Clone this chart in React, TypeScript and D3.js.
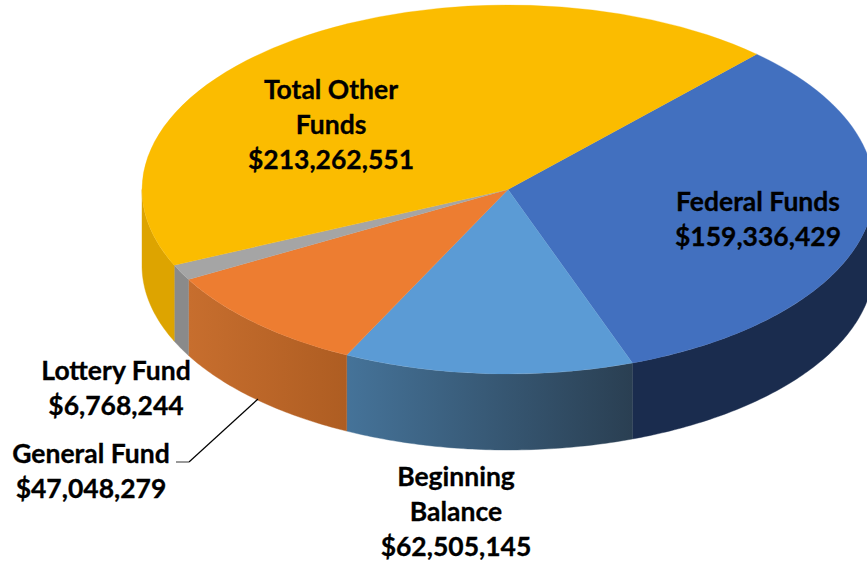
import React from "react";
import * as d3 from "d3";

const categories = ["Federal Funds", "Beginning Balance", "General Fund", "Lottery Fund", "Total Other Funds"];
const values = [159336429, 62505145, 47048279, 6768244, 213262551];
const topColors = ["#4270BF", "#5B9BD5", "#ED7D31", "#A5A5A5", "#FBBC00"];
const sideLeft = ["#1A2C4E", "#457399", "#C76E2E", "#8A8A8A", "#DDA400"];
const sideRight = ["#1A2C4E", "#2A3F52", "#AE5D22", "#8A8A8A", "#DDA400"];
const labelLines = [
  ["Federal Funds", "$159,336,429"],
  ["Beginning", "Balance", "$62,505,145"],
  ["General Fund", "$47,048,279"],
  ["Lottery Fund", "$6,768,244"],
  ["Total Other", "Funds", "$213,262,551"],
];
const labelCenters = [
  [758, 211],
  [456, 486],
  [91, 463],
  [116, 380],
  [331, 99],
];

const W = 867, H = 565;
const cx = 508, cy = 189.5, rx = 366, ry = 184.5, depth = 76;
const startDeg = 42.8;
const lineStep = 35;

const toRad = (d: number) => (d * Math.PI) / 180;
const pie = d3.pie<number>().sort(null).startAngle(toRad(startDeg)).endAngle(toRad(startDeg + 360));
const arcs = pie(values);
const arcGen = d3.arc<d3.PieArcDatum<number>>().innerRadius(0).outerRadius(rx);
const px = (t: number) => cx + rx * Math.sin(t);
const py = (t: number) => cy - ry * Math.cos(t);

function sidePath(a: d3.PieArcDatum<number>): string | null {
  const paths: string[] = [];
  for (const k of [0, 2 * Math.PI]) {
    const lo = Math.max(a.startAngle, Math.PI / 2 + k);
    const hi = Math.min(a.endAngle, (3 * Math.PI) / 2 + k);
    if (hi <= lo) continue;
    const n = Math.max(2, Math.ceil((hi - lo) * 80));
    const ts = d3.range(n + 1).map((i) => lo + ((hi - lo) * i) / n);
    const area = d3.area<number>().x(px).y0(py).y1((t) => py(t) + depth);
    paths.push(area(ts) as string);
  }
  return paths.length ? paths.join(" ") : null;
}

function sideBounds(a: d3.PieArcDatum<number>): [number, number] {
  const lo = Math.max(a.startAngle, Math.PI / 2);
  const hi = Math.min(a.endAngle, (3 * Math.PI) / 2);
  return [px(hi), px(lo)];
}

export default function App() {
  return (
    <svg
      width={W}
      height={H}
      viewBox={`0 0 ${W} ${H}`}
      style={{ position: "absolute", left: 0, top: 0, background: "#fff" }}
    >
      <defs>
        {arcs.map((a, i) => {
          const [x1, x2] = sideBounds(a);
          return (
            <linearGradient key={i} id={`side${i}`} gradientUnits="userSpaceOnUse" x1={x1} x2={x2} y1={0} y2={0}>
              <stop offset="0" stopColor={sideLeft[i]} />
              <stop offset="1" stopColor={sideRight[i]} />
            </linearGradient>
          );
        })}
      </defs>
      {arcs.map((a, i) => {
        const d = sidePath(a);
        return d ? (
          <path key={i} d={d} fill={`url(#side${i})`} stroke={`url(#side${i})`} strokeWidth={0.4} />
        ) : null;
      })}
      <g transform={`translate(${cx},${cy}) scale(1,${ry / rx})`}>
        {arcs.map((a, i) => (
          <path key={i} d={arcGen(a) as string} fill={topColors[i]} stroke={topColors[i]} strokeWidth={0.4} />
        ))}
      </g>
      <polyline points="258,399 189,462" fill="none" stroke="#000" strokeWidth={1.2} />
      <polyline points="189,462 176,462" fill="none" stroke="#555" strokeWidth={1.2} />
      <g
        fontFamily="Lato, 'Open Sans', sans-serif"
        fontWeight={700}
        fontSize={26.5}
        fill="#000"
        stroke="#000"
        strokeWidth={0.3}
        textAnchor="middle"
      >
        {categories.map((c, i) => (
          <text key={c} x={labelCenters[i][0]} y={labelCenters[i][1]}>
            {labelLines[i].map((l, j) => (
              <tspan key={j} x={labelCenters[i][0]} y={labelCenters[i][1] + j * lineStep}>
                {l}
              </tspan>
            ))}
          </text>
        ))}
      </g>
    </svg>
  );
}
